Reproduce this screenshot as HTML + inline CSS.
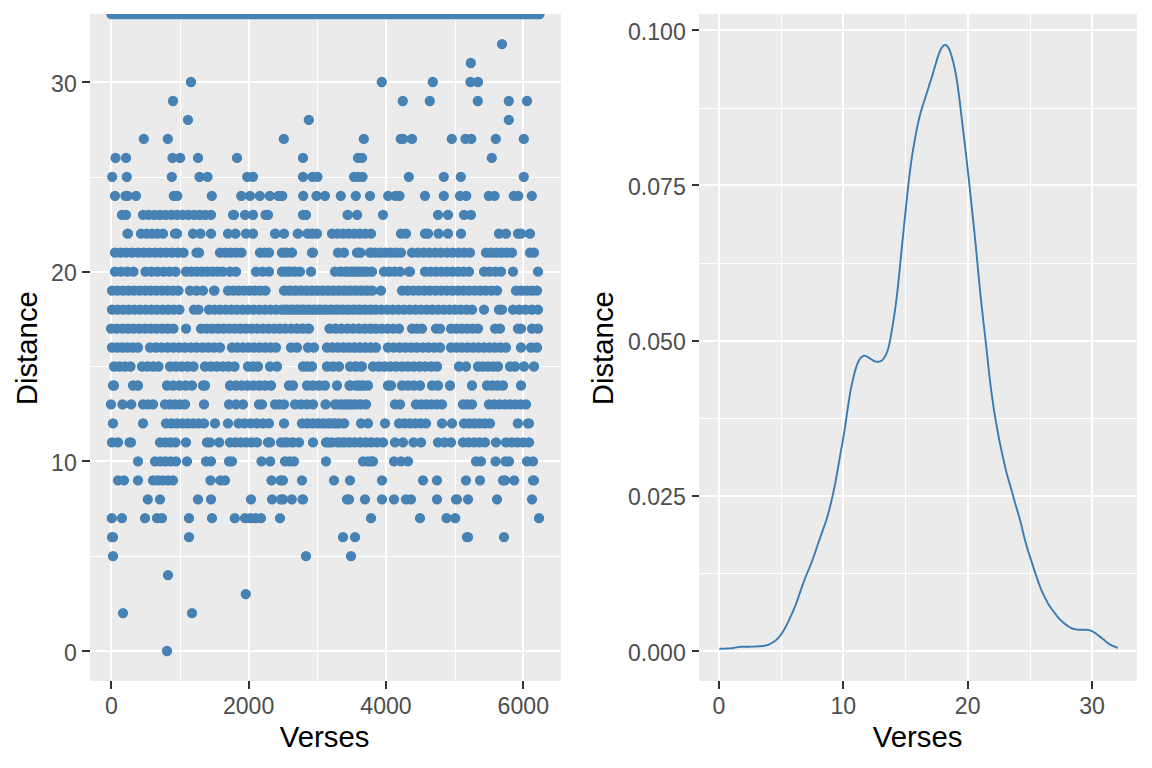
<!DOCTYPE html><html><head><meta charset="utf-8"><title>plot</title><style>html,body{margin:0;padding:0;background:#fff}svg{display:block}text{font-family:"Liberation Sans",sans-serif}</style></head><body>
<svg width="1152" height="768" viewBox="0 0 1152 768">
<rect width="1152" height="768" fill="#fff"/>
<defs>
<clipPath id="cl"><rect x="90" y="14" width="471.0" height="667.0"/></clipPath>
<clipPath id="cr"><rect x="699" y="14" width="438.0" height="667.0"/></clipPath>
</defs>
<rect x="90" y="14" width="471" height="667" fill="#EBEBEB"/><g fill="#fff" shape-rendering="crispEdges"><rect x="180" y="14" width="1" height="667"/><rect x="317" y="14" width="1" height="667"/><rect x="455" y="14" width="1" height="667"/><rect y="556" x="90" height="1" width="471"/><rect y="366" x="90" height="1" width="471"/><rect y="177" x="90" height="1" width="471"/><rect x="110" y="14" width="2" height="667"/><rect x="248" y="14" width="2" height="667"/><rect x="385" y="14" width="2" height="667"/><rect x="522" y="14" width="2" height="667"/><rect y="650" x="90" height="2" width="471"/><rect y="460" x="90" height="2" width="471"/><rect y="271" x="90" height="2" width="471"/><rect y="81" x="90" height="2" width="471"/></g>
<rect x="699" y="14" width="438" height="667" fill="#EBEBEB"/><g fill="#fff" shape-rendering="crispEdges"><rect x="781" y="14" width="1" height="667"/><rect x="905" y="14" width="1" height="667"/><rect x="1030" y="14" width="1" height="667"/><rect y="573" x="699" height="1" width="438"/><rect y="418" x="699" height="1" width="438"/><rect y="263" x="699" height="1" width="438"/><rect y="108" x="699" height="1" width="438"/><rect x="718" y="14" width="2" height="667"/><rect x="842" y="14" width="2" height="667"/><rect x="967" y="14" width="2" height="667"/><rect x="1091" y="14" width="2" height="667"/><rect y="650" x="699" height="2" width="438"/><rect y="495" x="699" height="2" width="438"/><rect y="340" x="699" height="2" width="438"/><rect y="184" x="699" height="2" width="438"/><rect y="29" x="699" height="2" width="438"/></g>
<g fill="#333" shape-rendering="crispEdges"><rect x="110" y="681" width="2" height="8"/><rect x="248" y="681" width="2" height="8"/><rect x="385" y="681" width="2" height="8"/><rect x="522" y="681" width="2" height="8"/><rect y="650" x="82" width="8" height="2"/><rect y="460" x="82" width="8" height="2"/><rect y="271" x="82" width="8" height="2"/><rect y="81" x="82" width="8" height="2"/></g><text x="111.3" y="713.6" font-size="23.1" fill="#4D4D4D" text-anchor="middle">0</text><text x="248.6" y="713.6" font-size="23.1" fill="#4D4D4D" text-anchor="middle">2000</text><text x="386.0" y="713.6" font-size="23.1" fill="#4D4D4D" text-anchor="middle">4000</text><text x="523.3" y="713.6" font-size="23.1" fill="#4D4D4D" text-anchor="middle">6000</text><text x="76.8" y="660.5" font-size="23.1" fill="#4D4D4D" text-anchor="end">0</text><text x="76.8" y="470.8" font-size="23.1" fill="#4D4D4D" text-anchor="end">10</text><text x="76.8" y="281.2" font-size="23.1" fill="#4D4D4D" text-anchor="end">20</text><text x="76.8" y="91.5" font-size="23.1" fill="#4D4D4D" text-anchor="end">30</text>
<g fill="#333" shape-rendering="crispEdges"><rect x="718" y="681" width="2" height="8"/><rect x="842" y="681" width="2" height="8"/><rect x="967" y="681" width="2" height="8"/><rect x="1091" y="681" width="2" height="8"/><rect y="650" x="692" width="7" height="2"/><rect y="495" x="692" width="7" height="2"/><rect y="340" x="692" width="7" height="2"/><rect y="184" x="692" width="7" height="2"/><rect y="29" x="692" width="7" height="2"/></g><text x="719.0" y="713.6" font-size="23.1" fill="#4D4D4D" text-anchor="middle">0</text><text x="843.3" y="713.6" font-size="23.1" fill="#4D4D4D" text-anchor="middle">10</text><text x="967.7" y="713.6" font-size="23.1" fill="#4D4D4D" text-anchor="middle">20</text><text x="1092.0" y="713.6" font-size="23.1" fill="#4D4D4D" text-anchor="middle">30</text><text x="685.8" y="660.5" font-size="23.1" fill="#4D4D4D" text-anchor="end">0.000</text><text x="685.8" y="505.2" font-size="23.1" fill="#4D4D4D" text-anchor="end">0.025</text><text x="685.8" y="350.0" font-size="23.1" fill="#4D4D4D" text-anchor="end">0.050</text><text x="685.8" y="194.8" font-size="23.1" fill="#4D4D4D" text-anchor="end">0.075</text><text x="685.8" y="39.5" font-size="23.1" fill="#4D4D4D" text-anchor="end">0.100</text>
<text x="324.6" y="746.8" font-size="29.33" fill="#000" text-anchor="middle">Verses</text>
<text x="917.6" y="746.8" font-size="29.33" fill="#000" text-anchor="middle">Verses</text>
<text transform="translate(37.4,348.2) rotate(-90)" font-size="29.33" fill="#000" text-anchor="middle">Distance</text>
<text transform="translate(613.4,348.2) rotate(-90)" font-size="29.33" fill="#000" text-anchor="middle">Distance</text>
<g clip-path="url(#cl)"><path d="M122.0 214.8h0m4.00 0h0M143.0 214.8h0m5.67 0h0m5.67 0h0m5.67 0h0m5.67 0h0m5.67 0h0m5.67 0h0m5.67 0h0m5.67 0h0m5.67 0h0m5.67 0h0m5.67 0h0m5.67 0h0M233.0 214.8h0m1.00 0h0M245.0 214.8h0m8.00 0h0M265.5 214.8h0m2.50 0h0M303.0 214.8h0m3.00 0h0M347.5 214.8h0M357.2 214.8h0M303.0 214.8h0m3.00 0h0M347.8 214.8h0M357.2 214.8h0M383.0 214.8h0M438.0 214.8h0M448.0 214.8h0M464.0 214.8h0m7.00 0h0M127.5 233.7h0m0.50 0h0M141.0 233.7h0m5.50 0h0m5.50 0h0m5.50 0h0m5.50 0h0M175.0 233.7h0m2.00 0h0M193.0 233.7h0m7.50 0h0M211.0 233.7h0M228.0 233.7h0m7.50 0h0M246.0 233.7h0m7.00 0h0M275.0 233.7h0m0.50 0h0M284.0 233.7h0M298.0 233.7h0M307.5 233.7h0m4.75 0h0m4.75 0h0M332.0 233.7h0m5.57 0h0m5.57 0h0m5.57 0h0m5.57 0h0m5.57 0h0m5.57 0h0m5.57 0h0M297.8 233.7h0M308.0 233.7h0m4.50 0h0m4.50 0h0M332.0 233.7h0m5.57 0h0m5.57 0h0m5.57 0h0m5.57 0h0m5.57 0h0m5.57 0h0m5.57 0h0M401.0 233.7h0m5.00 0h0M425.0 233.7h0m3.00 0h0M438.5 233.7h0M448.0 233.7h0M461.0 233.7h0M499.0 233.7h0m7.00 0h0M518.0 233.7h0m3.00 0h0M530.0 233.7h0M115.0 252.7h0m5.71 0h0m5.71 0h0m5.71 0h0m5.71 0h0m5.71 0h0m5.71 0h0m5.71 0h0m5.71 0h0m5.71 0h0m5.71 0h0m5.71 0h0m5.71 0h0M196.5 252.7h0m2.50 0h0M220.0 252.7h0m5.38 0h0m5.38 0h0m5.38 0h0m5.38 0h0M260.0 252.7h0m4.50 0h0m4.50 0h0M282.0 252.7h0m4.75 0h0m4.75 0h0M312.0 252.7h0m1.00 0h0M338.0 252.7h0m6.00 0h0M357.0 252.7h0m3.50 0h0M370.0 252.7h0m1.00 0h0M285.0 252.7h0m7.00 0h0M312.0 252.7h0m1.00 0h0M338.0 252.7h0m6.00 0h0M357.0 252.7h0m2.00 0h0M370.0 252.7h0m5.17 0h0m5.17 0h0m5.17 0h0m5.17 0h0m5.17 0h0m5.17 0h0M412.0 252.7h0m5.80 0h0m5.80 0h0m5.80 0h0m5.80 0h0m5.80 0h0m5.80 0h0m5.80 0h0m5.80 0h0m5.80 0h0m5.80 0h0M486.0 252.7h0m5.20 0h0m5.20 0h0m5.20 0h0m5.20 0h0m5.20 0h0M530.0 252.7h0m4.00 0h0M115.0 271.7h0m6.17 0h0m6.17 0h0m6.17 0h0M145.5 271.7h0m6.00 0h0m6.00 0h0m6.00 0h0m6.00 0h0m6.00 0h0M186.0 271.7h0m5.29 0h0m5.29 0h0m5.29 0h0m5.29 0h0m5.29 0h0m5.29 0h0m5.29 0h0M230.0 271.7h0m6.00 0h0M256.0 271.7h0m6.50 0h0m6.50 0h0M282.0 271.7h0m6.00 0h0m6.00 0h0m6.00 0h0M311.0 271.7h0M335.0 271.7h0m6.00 0h0m6.00 0h0m6.00 0h0m6.00 0h0m6.00 0h0m6.00 0h0M285.0 271.7h0m5.00 0h0m5.00 0h0m5.00 0h0M311.0 271.7h0M335.0 271.7h0m5.29 0h0m5.29 0h0m5.29 0h0m5.29 0h0m5.29 0h0m5.29 0h0m5.29 0h0M384.0 271.7h0m5.33 0h0m5.33 0h0m5.33 0h0M409.0 271.7h0m1.00 0h0M425.0 271.7h0m5.50 0h0m5.50 0h0m5.50 0h0m5.50 0h0m5.50 0h0m5.50 0h0m5.50 0h0m5.50 0h0M484.0 271.7h0m5.67 0h0m5.67 0h0m5.67 0h0M513.0 271.7h0M538.0 271.7h0M112.0 290.6h0m5.54 0h0m5.54 0h0m5.54 0h0m5.54 0h0m5.54 0h0m5.54 0h0m5.54 0h0m5.54 0h0m5.54 0h0m5.54 0h0m5.54 0h0m5.54 0h0M190.0 290.6h0m6.50 0h0m6.50 0h0M214.0 290.6h0m0.50 0h0M228.0 290.6h0m5.36 0h0m5.36 0h0m5.36 0h0m5.36 0h0m5.36 0h0m5.36 0h0m5.36 0h0M284.0 290.6h0m5.44 0h0m5.44 0h0m5.44 0h0m5.44 0h0m5.44 0h0m5.44 0h0m5.44 0h0m5.44 0h0m5.44 0h0m5.44 0h0m5.44 0h0m5.44 0h0m5.44 0h0m5.44 0h0m5.44 0h0m5.44 0h0M285.0 290.6h0m5.47 0h0m5.47 0h0m5.47 0h0m5.47 0h0m5.47 0h0m5.47 0h0m5.47 0h0m5.47 0h0m5.47 0h0m5.47 0h0m5.47 0h0m5.47 0h0m5.47 0h0m5.47 0h0m5.47 0h0m5.47 0h0M381.0 290.6h0M402.0 290.6h0m5.59 0h0m5.59 0h0m5.59 0h0m5.59 0h0m5.59 0h0m5.59 0h0m5.59 0h0m5.59 0h0m5.59 0h0m5.59 0h0m5.59 0h0m5.59 0h0m5.59 0h0m5.59 0h0m5.59 0h0m5.59 0h0m5.59 0h0M516.0 290.6h0m5.25 0h0m5.25 0h0m5.25 0h0m5.25 0h0M112.0 309.6h0m5.62 0h0m5.62 0h0m5.62 0h0m5.62 0h0m5.62 0h0m5.62 0h0m5.62 0h0m5.62 0h0m5.62 0h0m5.62 0h0m5.62 0h0m5.62 0h0M194.0 309.6h0m4.50 0h0M209.0 309.6h0m5.59 0h0m5.59 0h0m5.59 0h0m5.59 0h0m5.59 0h0m5.59 0h0m5.59 0h0m5.59 0h0m5.59 0h0m5.59 0h0m5.59 0h0m5.59 0h0m5.59 0h0m5.59 0h0m5.59 0h0m5.59 0h0m5.59 0h0m5.59 0h0m5.59 0h0m5.59 0h0m5.59 0h0m5.59 0h0m5.59 0h0m5.59 0h0m5.59 0h0m5.59 0h0m5.59 0h0m5.59 0h0m5.59 0h0M285.0 309.6h0m5.67 0h0m5.67 0h0m5.67 0h0m5.67 0h0m5.67 0h0m5.67 0h0m5.67 0h0m5.67 0h0m5.67 0h0m5.67 0h0m5.67 0h0m5.67 0h0m5.67 0h0m5.67 0h0m5.67 0h0m5.67 0h0m5.67 0h0m5.67 0h0m5.67 0h0m5.67 0h0m5.67 0h0m5.67 0h0m5.67 0h0m5.67 0h0m5.67 0h0m5.67 0h0m5.67 0h0m5.67 0h0m5.67 0h0m5.67 0h0m5.67 0h0m5.67 0h0m5.67 0h0M484.0 309.6h0M499.0 309.6h0m3.00 0h0M513.0 309.6h0m6.25 0h0m6.25 0h0m6.25 0h0m6.25 0h0M111.0 328.6h0m5.68 0h0m5.68 0h0m5.68 0h0m5.68 0h0m5.68 0h0m5.68 0h0m5.68 0h0m5.68 0h0m5.68 0h0m5.68 0h0m5.68 0h0M186.0 328.6h0M201.0 328.6h0m5.63 0h0m5.63 0h0m5.63 0h0m5.63 0h0m5.63 0h0m5.63 0h0m5.63 0h0m5.63 0h0m5.63 0h0m5.63 0h0m5.63 0h0m5.63 0h0m5.63 0h0m5.63 0h0m5.63 0h0m5.63 0h0m5.63 0h0m5.63 0h0m5.63 0h0M329.5 328.6h0m5.93 0h0m5.93 0h0m5.93 0h0m5.93 0h0m5.93 0h0m5.93 0h0m5.93 0h0M285.0 328.6h0m6.00 0h0m6.00 0h0m6.00 0h0m6.00 0h0M330.0 328.6h0m5.75 0h0m5.75 0h0m5.75 0h0m5.75 0h0m5.75 0h0m5.75 0h0m5.75 0h0m5.75 0h0m5.75 0h0m5.75 0h0m5.75 0h0m5.75 0h0M412.0 328.6h0m5.00 0h0m5.00 0h0M436.0 328.6h0m4.00 0h0M451.0 328.6h0m5.40 0h0m5.40 0h0m5.40 0h0m5.40 0h0m5.40 0h0M495.0 328.6h0m5.00 0h0M518.0 328.6h0m3.00 0h0M532.0 328.6h0m6.00 0h0M112.0 347.5h0m5.20 0h0m5.20 0h0m5.20 0h0m5.20 0h0m5.20 0h0M150.0 347.5h0m5.83 0h0m5.83 0h0m5.83 0h0m5.83 0h0m5.83 0h0m5.83 0h0m5.83 0h0m5.83 0h0m5.83 0h0m5.83 0h0m5.83 0h0m5.83 0h0M232.0 347.5h0m5.50 0h0m5.50 0h0m5.50 0h0m5.50 0h0m5.50 0h0m5.50 0h0m5.50 0h0m5.50 0h0M291.0 347.5h0m6.00 0h0M308.0 347.5h0m6.00 0h0M327.0 347.5h0m5.50 0h0m5.50 0h0m5.50 0h0m5.50 0h0m5.50 0h0m5.50 0h0m5.50 0h0m5.50 0h0M291.0 347.5h0m6.00 0h0M308.0 347.5h0m6.00 0h0M327.0 347.5h0m5.44 0h0m5.44 0h0m5.44 0h0m5.44 0h0m5.44 0h0m5.44 0h0m5.44 0h0m5.44 0h0m5.44 0h0M388.0 347.5h0m5.78 0h0m5.78 0h0m5.78 0h0m5.78 0h0m5.78 0h0m5.78 0h0m5.78 0h0m5.78 0h0m5.78 0h0M451.0 347.5h0m5.50 0h0m5.50 0h0m5.50 0h0m5.50 0h0m5.50 0h0m5.50 0h0m5.50 0h0m5.50 0h0m5.50 0h0m5.50 0h0M521.0 347.5h0M531.0 347.5h0m6.00 0h0M114.0 366.5h0m5.50 0h0m5.50 0h0m5.50 0h0M142.0 366.5h0m5.50 0h0m5.50 0h0m5.50 0h0M170.0 366.5h0m5.88 0h0m5.88 0h0m5.88 0h0m5.88 0h0M205.0 366.5h0m5.90 0h0m5.90 0h0m5.90 0h0m5.90 0h0m5.90 0h0M248.0 366.5h0m5.00 0h0m5.00 0h0M270.0 366.5h0m7.00 0h0M303.0 366.5h0m4.50 0h0m4.50 0h0M327.0 366.5h0m6.00 0h0m6.00 0h0M350.0 366.5h0m5.50 0h0m5.50 0h0M303.0 366.5h0m4.50 0h0m4.50 0h0M327.0 366.5h0m6.00 0h0m6.00 0h0M350.0 366.5h0m6.00 0h0m6.00 0h0M373.0 366.5h0m5.82 0h0m5.82 0h0m5.82 0h0m5.82 0h0m5.82 0h0m5.82 0h0m5.82 0h0m5.82 0h0m5.82 0h0m5.82 0h0m5.82 0h0M459.0 366.5h0m7.00 0h0M478.0 366.5h0m5.00 0h0m5.00 0h0m5.00 0h0m5.00 0h0M510.0 366.5h0m5.00 0h0M524.0 366.5h0M534.0 366.5h0M113.0 385.5h0m1.00 0h0M133.0 385.5h0m5.00 0h0M167.0 385.5h0m6.25 0h0m6.25 0h0m6.25 0h0m6.25 0h0M203.0 385.5h0m2.00 0h0M230.0 385.5h0m5.86 0h0m5.86 0h0m5.86 0h0m5.86 0h0m5.86 0h0m5.86 0h0m5.86 0h0M289.0 385.5h0m4.00 0h0M307.0 385.5h0m6.00 0h0m6.00 0h0m6.00 0h0M337.0 385.5h0M350.0 385.5h0m6.00 0h0m6.00 0h0m6.00 0h0M289.0 385.5h0m4.00 0h0M307.0 385.5h0m6.00 0h0m6.00 0h0m6.00 0h0M337.0 385.5h0M349.5 385.5h0M359.0 385.5h0m4.50 0h0m4.50 0h0M388.0 385.5h0m3.00 0h0M402.0 385.5h0m6.00 0h0m6.00 0h0m6.00 0h0M432.0 385.5h0m6.00 0h0M450.0 385.5h0M472.0 385.5h0M487.0 385.5h0m5.33 0h0m5.33 0h0m5.33 0h0M521.0 385.5h0M111.0 404.4h0M122.5 404.4h0M131.2 404.4h0M143.0 404.4h0m5.00 0h0m5.00 0h0M165.0 404.4h0m5.00 0h0m5.00 0h0m5.00 0h0m5.00 0h0M204.0 404.4h0M229.0 404.4h0m7.00 0h0m7.00 0h0M259.0 404.4h0m3.00 0h0M275.0 404.4h0m4.50 0h0m4.50 0h0M295.0 404.4h0m6.00 0h0m6.00 0h0m6.00 0h0M325.5 404.4h0M335.0 404.4h0m5.17 0h0m5.17 0h0m5.17 0h0m5.17 0h0m5.17 0h0m5.17 0h0M295.0 404.4h0m6.00 0h0m6.00 0h0m6.00 0h0M325.8 404.4h0M336.0 404.4h0m6.00 0h0m6.00 0h0m6.00 0h0m6.00 0h0m6.00 0h0M395.0 404.4h0m5.00 0h0M416.0 404.4h0m5.20 0h0m5.20 0h0m5.20 0h0m5.20 0h0m5.20 0h0M463.0 404.4h0m4.50 0h0m4.50 0h0M489.0 404.4h0m5.29 0h0m5.29 0h0m5.29 0h0m5.29 0h0m5.29 0h0m5.29 0h0m5.29 0h0M113.0 423.4h0M143.0 423.4h0M166.0 423.4h0m5.43 0h0m5.43 0h0m5.43 0h0m5.43 0h0m5.43 0h0m5.43 0h0m5.43 0h0M215.0 423.4h0M228.0 423.4h0M238.5 423.4h0m6.10 0h0m6.10 0h0m6.10 0h0m6.10 0h0m6.10 0h0M284.0 423.4h0M302.0 423.4h0m5.25 0h0m5.25 0h0m5.25 0h0m5.25 0h0m5.25 0h0m5.25 0h0m5.25 0h0m5.25 0h0M361.0 423.4h0m7.00 0h0M302.0 423.4h0m5.50 0h0m5.50 0h0m5.50 0h0m5.50 0h0m5.50 0h0m5.50 0h0M344.2 423.4h0M361.0 423.4h0m7.00 0h0M385.0 423.4h0M399.0 423.4h0m5.40 0h0m5.40 0h0m5.40 0h0m5.40 0h0m5.40 0h0M442.0 423.4h0M452.0 423.4h0M464.0 423.4h0m5.20 0h0m5.20 0h0m5.20 0h0m5.20 0h0m5.20 0h0M517.8 423.4h0M528.0 423.4h0m1.00 0h0M112.0 442.4h0m6.00 0h0M129.5 442.4h0m1.50 0h0M160.0 442.4h0m5.17 0h0m5.17 0h0m5.17 0h0M186.0 442.4h0M207.0 442.4h0m3.00 0h0M219.2 442.4h0M230.0 442.4h0m5.40 0h0m5.40 0h0m5.40 0h0m5.40 0h0m5.40 0h0M268.0 442.4h0m2.00 0h0M281.0 442.4h0m6.00 0h0m6.00 0h0m6.00 0h0M313.0 442.4h0M326.0 442.4h0m2.00 0h0M339.0 442.4h0m5.33 0h0m5.33 0h0m5.33 0h0m5.33 0h0m5.33 0h0m5.33 0h0M285.0 442.4h0m7.00 0h0m7.00 0h0M313.0 442.4h0M326.0 442.4h0m5.70 0h0m5.70 0h0m5.70 0h0m5.70 0h0m5.70 0h0m5.70 0h0m5.70 0h0m5.70 0h0m5.70 0h0m5.70 0h0M395.0 442.4h0m8.00 0h0M413.5 442.4h0m7.50 0h0M438.0 442.4h0m6.50 0h0m6.50 0h0M463.0 442.4h0m5.50 0h0m5.50 0h0m5.50 0h0m5.50 0h0M496.0 442.4h0M506.0 442.4h0m5.75 0h0m5.75 0h0m5.75 0h0m5.75 0h0M138.0 461.3h0M155.0 461.3h0m5.25 0h0m5.25 0h0m5.25 0h0m5.25 0h0M187.0 461.3h0M206.0 461.3h0m5.00 0h0M229.0 461.3h0m3.00 0h0M261.5 461.3h0M270.2 461.3h0M285.0 461.3h0m4.50 0h0m4.50 0h0M326.0 461.3h0M363.0 461.3h0m8.00 0h0M285.0 461.3h0m4.50 0h0m4.50 0h0M326.0 461.3h0M363.0 461.3h0m5.00 0h0m5.00 0h0M394.0 461.3h0m7.00 0h0m7.00 0h0M476.0 461.3h0m5.00 0h0M495.5 461.3h0M505.5 461.3h0m3.50 0h0M527.0 461.3h0m6.00 0h0M118.0 480.3h0m6.00 0h0M138.0 480.3h0M153.0 480.3h0m5.00 0h0m5.00 0h0m5.00 0h0m5.00 0h0M210.5 480.3h0M220.5 480.3h0m4.50 0h0M271.5 480.3h0M280.5 480.3h0m2.50 0h0M302.0 480.3h0M334.0 480.3h0M350.0 480.3h0M302.0 480.3h0M334.0 480.3h0M350.0 480.3h0M382.0 480.3h0M423.0 480.3h0M437.0 480.3h0M466.0 480.3h0M480.0 480.3h0M503.0 480.3h0m2.00 0h0M514.2 480.3h0M533.0 480.3h0m1.00 0h0M147.8 499.3h0M160.0 499.3h0M198.0 499.3h0M211.0 499.3h0M251.0 499.3h0M272.0 499.3h0M281.0 499.3h0m2.00 0h0M291.8 499.3h0M302.5 499.3h0m0.50 0h0M347.0 499.3h0m2.00 0h0M365.0 499.3h0M291.8 499.3h0M302.5 499.3h0m0.50 0h0M347.0 499.3h0m2.00 0h0M365.0 499.3h0M382.0 499.3h0M394.0 499.3h0M406.0 499.3h0m5.00 0h0M437.0 499.3h0M456.0 499.3h0m1.00 0h0M468.0 499.3h0M497.0 499.3h0M532.0 499.3h0M111.8 518.2h0M122.0 518.2h0M145.0 518.2h0M157.0 518.2h0m5.00 0h0M189.0 518.2h0M212.0 518.2h0M234.8 518.2h0M245.0 518.2h0m5.33 0h0m5.33 0h0m5.33 0h0M280.0 518.2h0M371.0 518.2h0M420.0 518.2h0M446.5 518.2h0M455.2 518.2h0M539.0 518.2h0M112.0 537.2h0m1.00 0h0M189.0 537.2h0M343.0 537.2h0M355.0 537.2h0M343.0 537.2h0M355.0 537.2h0M467.0 537.2h0m1.00 0h0M504.0 537.2h0M113.0 556.2h0M306.0 556.2h0M351.0 556.2h0M306.0 556.2h0M351.0 556.2h0M502.0 44.1h0M470.8 63.0h0M191.0 82.0h0M381.8 82.0h0M432.8 82.0h0M470.5 82.0h0M478.0 82.0h0M173.0 101.0h0M402.8 101.0h0M429.8 101.0h0M477.8 101.0h0M508.8 101.0h0M527.0 101.0h0M188.0 119.9h0M308.8 119.9h0M508.8 119.9h0M143.8 138.9h0M167.8 138.9h0M283.8 138.9h0M363.8 138.9h0M400.8 138.9h0m2.25 0h0M412.0 138.9h0M451.8 138.9h0M465.5 138.9h0m5.75 0h0M495.8 138.9h0M523.8 138.9h0M115.5 157.9h0M126.0 157.9h0M172.5 157.9h0M180.2 157.9h0M198.0 157.9h0M237.0 157.9h0M303.0 157.9h0M358.0 157.9h0m4.00 0h0M491.8 157.9h0M112.2 176.8h0M126.8 176.8h0M171.8 176.8h0M199.5 176.8h0M207.5 176.8h0M247.2 176.8h0M253.0 176.8h0M303.0 176.8h0M312.5 176.8h0m5.00 0h0M354.0 176.8h0m4.25 0h0m4.25 0h0M408.8 176.8h0M443.8 176.8h0M460.8 176.8h0M523.8 176.8h0M115.0 195.8h0M125.5 195.8h0m2.00 0h0M136.0 195.8h0M173.8 195.8h0m3.50 0h0M211.8 195.8h0M241.2 195.8h0M250.0 195.8h0M259.8 195.8h0M269.8 195.8h0M278.5 195.8h0m3.75 0h0M303.2 195.8h0M316.5 195.8h0M325.0 195.8h0M340.8 195.8h0M355.8 195.8h0M370.0 195.8h0M388.2 195.8h0M395.5 195.8h0m4.00 0h0M425.0 195.8h0M443.8 195.8h0M460.0 195.8h0m6.25 0h0M488.8 195.8h0m5.75 0h0M513.8 195.8h0m4.50 0h0M531.8 195.8h0M168.0 575.1h0M245.8 594.1h0M123.0 613.1h0M192.0 613.1h0M167.0 651.0h0" stroke="#4682B4" stroke-width="10.3" stroke-linecap="round" fill="none"/>
<path d="M111.4 14H539.5" stroke="#4682B4" stroke-width="10.3" stroke-linecap="round" fill="none"/></g>
<g clip-path="url(#cr)"><path d="M719.2 648.8 L720.2 648.8 L721.2 648.7 L722.2 648.7 L723.2 648.6 L724.2 648.6 L725.2 648.6 L726.2 648.5 L727.2 648.5 L728.2 648.5 L729.2 648.4 L730.2 648.4 L731.2 648.3 L732.2 648.2 L733.2 648.0 L734.2 647.9 L735.2 647.6 L736.2 647.4 L737.2 647.3 L738.2 647.1 L739.2 647.0 L740.2 646.9 L741.2 646.8 L742.2 646.8 L743.2 646.8 L744.2 646.8 L745.2 646.8 L746.2 646.7 L747.2 646.7 L748.2 646.7 L749.2 646.7 L750.2 646.6 L751.2 646.6 L752.2 646.6 L753.2 646.6 L754.2 646.6 L755.2 646.5 L756.2 646.5 L757.2 646.4 L758.2 646.4 L759.2 646.3 L760.2 646.2 L761.2 646.1 L762.2 646.0 L763.2 645.9 L764.2 645.8 L765.2 645.7 L766.2 645.4 L767.2 645.1 L768.2 644.8 L769.2 644.3 L770.2 643.8 L771.2 643.2 L772.2 642.6 L773.2 642.1 L774.2 641.4 L775.2 640.7 L776.2 639.9 L777.2 639.0 L778.2 638.0 L779.2 636.8 L780.2 635.6 L781.2 634.2 L782.2 632.8 L783.2 631.2 L784.2 629.6 L785.2 627.8 L786.2 625.9 L787.2 623.9 L788.2 621.9 L789.2 619.7 L790.2 617.5 L791.2 615.4 L792.2 613.1 L793.2 610.8 L794.2 608.4 L795.2 606.0 L796.2 603.3 L797.2 600.6 L798.2 597.8 L799.2 594.8 L800.2 591.9 L801.2 589.0 L802.2 586.1 L803.2 583.3 L804.2 580.6 L805.2 578.0 L806.2 575.5 L807.2 573.0 L808.2 570.6 L809.2 568.3 L810.2 565.8 L811.2 563.3 L812.2 560.7 L813.2 558.0 L814.2 555.2 L815.2 552.3 L816.2 549.3 L817.2 546.2 L818.2 543.3 L819.2 540.4 L820.2 537.5 L821.2 534.7 L822.2 531.9 L823.2 529.1 L824.2 526.3 L825.2 523.5 L826.2 520.5 L827.2 517.2 L828.2 513.7 L829.2 510.1 L830.2 506.1 L831.2 502.0 L832.2 497.6 L833.2 493.0 L834.2 488.3 L835.2 483.4 L836.2 478.1 L837.2 472.5 L838.2 466.7 L839.2 460.9 L840.2 455.1 L841.2 449.5 L842.2 444.1 L843.2 438.4 L844.2 432.3 L845.2 425.8 L846.2 419.0 L847.2 412.1 L848.2 405.2 L849.2 398.7 L850.2 392.7 L851.2 387.3 L852.2 382.8 L853.2 378.4 L854.2 374.3 L855.2 370.6 L856.2 367.2 L857.2 364.3 L858.2 362.0 L859.2 360.0 L860.2 358.5 L861.2 357.3 L862.2 356.5 L863.2 356.0 L864.2 355.8 L865.2 355.9 L866.2 356.2 L867.2 356.6 L868.2 357.2 L869.2 357.9 L870.2 358.6 L871.2 359.3 L872.2 359.9 L873.2 360.6 L874.2 361.0 L875.2 361.4 L876.2 361.7 L877.2 361.8 L878.2 361.8 L879.2 361.7 L880.2 361.4 L881.2 360.9 L882.2 360.2 L883.2 359.1 L884.2 357.7 L885.2 356.0 L886.2 354.1 L887.2 351.6 L888.2 348.5 L889.2 344.5 L890.2 339.7 L891.2 334.1 L892.2 328.3 L893.2 322.2 L894.2 315.8 L895.2 308.9 L896.2 301.3 L897.2 293.0 L898.2 283.9 L899.2 274.2 L900.2 264.0 L901.2 253.7 L902.2 243.7 L903.2 234.0 L904.2 224.3 L905.2 214.5 L906.2 204.8 L907.2 195.3 L908.2 186.1 L909.2 177.5 L910.2 169.4 L911.2 162.0 L912.2 155.2 L913.2 148.9 L914.2 143.1 L915.2 137.6 L916.2 132.4 L917.2 127.3 L918.2 122.6 L919.2 118.3 L920.2 114.3 L921.2 110.6 L922.2 107.3 L923.2 104.1 L924.2 101.0 L925.2 98.0 L926.2 94.8 L927.2 91.7 L928.2 88.5 L929.2 85.4 L930.2 82.3 L931.2 79.1 L932.2 75.9 L933.2 72.6 L934.2 69.1 L935.2 65.7 L936.2 62.2 L937.2 58.9 L938.2 55.8 L939.2 52.9 L940.2 50.5 L941.2 48.5 L942.2 47.0 L943.2 45.8 L944.2 45.1 L945.2 44.9 L946.2 45.2 L947.2 46.0 L948.2 47.3 L949.2 49.2 L950.2 51.7 L951.2 54.7 L952.2 58.2 L953.2 62.0 L954.2 66.3 L955.2 71.0 L956.2 76.3 L957.2 82.6 L958.2 89.6 L959.2 97.1 L960.2 105.4 L961.2 113.9 L962.2 122.4 L963.2 130.8 L964.2 139.2 L965.2 147.5 L966.2 156.0 L967.2 164.9 L968.2 173.8 L969.2 182.9 L970.2 192.3 L971.2 201.7 L972.2 211.1 L973.2 220.8 L974.2 230.4 L975.2 240.1 L976.2 250.2 L977.2 260.8 L978.2 271.5 L979.2 282.0 L980.2 292.1 L981.2 301.7 L982.2 310.9 L983.2 319.8 L984.2 328.4 L985.2 337.2 L986.2 346.2 L987.2 355.4 L988.2 364.8 L989.2 374.1 L990.2 382.6 L991.2 390.5 L992.2 397.9 L993.2 404.8 L994.2 411.3 L995.2 417.4 L996.2 423.1 L997.2 428.8 L998.2 434.4 L999.2 439.7 L1000.2 444.5 L1001.2 449.2 L1002.2 453.9 L1003.2 458.3 L1004.2 462.8 L1005.2 467.2 L1006.2 471.4 L1007.2 475.3 L1008.2 478.9 L1009.2 482.2 L1010.2 485.4 L1011.2 488.9 L1012.2 492.6 L1013.2 496.2 L1014.2 499.8 L1015.2 503.4 L1016.2 506.8 L1017.2 510.1 L1018.2 513.5 L1019.2 516.9 L1020.2 520.6 L1021.2 524.6 L1022.2 528.8 L1023.2 532.9 L1024.2 537.0 L1025.2 541.0 L1026.2 544.6 L1027.2 548.0 L1028.2 551.2 L1029.2 554.3 L1030.2 557.4 L1031.2 560.4 L1032.2 563.5 L1033.2 566.7 L1034.2 569.9 L1035.2 573.0 L1036.2 575.9 L1037.2 578.7 L1038.2 581.6 L1039.2 584.4 L1040.2 587.1 L1041.2 589.6 L1042.2 591.9 L1043.2 594.0 L1044.2 596.1 L1045.2 598.1 L1046.2 600.0 L1047.2 601.9 L1048.2 603.7 L1049.2 605.4 L1050.2 606.9 L1051.2 608.3 L1052.2 609.7 L1053.2 611.0 L1054.2 612.4 L1055.2 613.7 L1056.2 615.0 L1057.2 616.3 L1058.2 617.5 L1059.2 618.6 L1060.2 619.7 L1061.2 620.7 L1062.2 621.6 L1063.2 622.5 L1064.2 623.4 L1065.2 624.1 L1066.2 624.9 L1067.2 625.6 L1068.2 626.3 L1069.2 627.0 L1070.2 627.6 L1071.2 628.0 L1072.2 628.4 L1073.2 628.8 L1074.2 629.0 L1075.2 629.3 L1076.2 629.4 L1077.2 629.6 L1078.2 629.7 L1079.2 629.7 L1080.2 629.8 L1081.2 629.8 L1082.2 629.8 L1083.2 629.8 L1084.2 629.8 L1085.2 629.8 L1086.2 629.8 L1087.2 629.9 L1088.2 630.0 L1089.2 630.1 L1090.2 630.4 L1091.2 630.8 L1092.2 631.2 L1093.2 631.8 L1094.2 632.5 L1095.2 633.1 L1096.2 633.8 L1097.2 634.6 L1098.2 635.3 L1099.2 636.1 L1100.2 636.9 L1101.2 637.6 L1102.2 638.4 L1103.2 639.3 L1104.2 640.1 L1105.2 640.9 L1106.2 641.8 L1107.2 642.6 L1108.2 643.4 L1109.2 644.0 L1110.2 644.6 L1111.2 645.1 L1112.2 645.6 L1113.2 646.0 L1114.2 646.3 L1115.2 646.8 L1116.2 647.3 L1117.2 647.9 L1117.6 648.1" stroke="#3A7BB3" stroke-width="1.9" stroke-linejoin="round" fill="none"/></g>
</svg></body></html>
